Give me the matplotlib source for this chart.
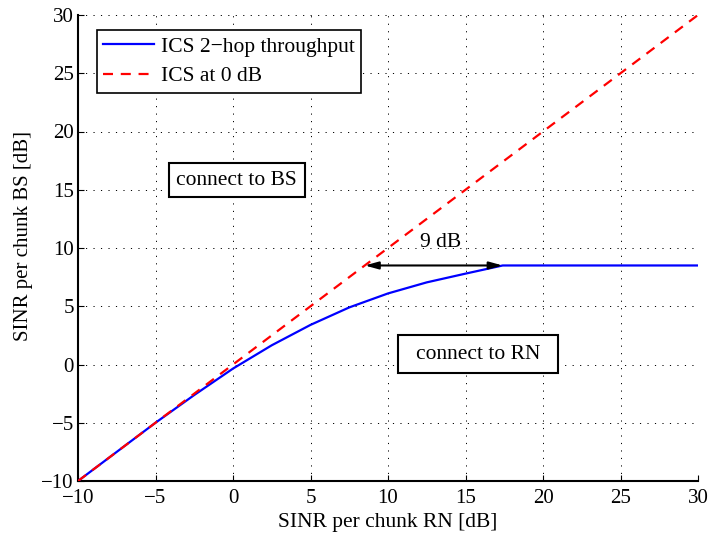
import matplotlib
matplotlib.use("Agg")
import matplotlib.pyplot as plt
from matplotlib.patches import Rectangle

plt.rcParams['font.family'] = ['Liberation Serif', 'DejaVu Serif']
plt.rcParams['axes.unicode_minus'] = True

# SINR per chunk at the relay node [dB]
sinr_rn = [-10, -7.5, -5, -2.5, 0, 2.5, 5, 7.5, 10, 12.5, 15, 17.4, 30]
# equivalent BS SINR giving the same 2-hop throughput [dB]
ics_2hop = [-10, -7.5, -5.0, -2.62, -0.35, 1.65, 3.4, 4.9, 6.1, 7.05, 7.8, 8.5, 8.5]
# reference line: ICS at 0 dB
ics_0db_x = [-10, 30]
ics_0db_y = [-10, 30]

arrow_y = 8.5
arrow_x = [8.5, 17.4]
gap_label = "9 dB"

xticks = [-10, -5, 0, 5, 10, 15, 20, 25, 30]
yticks = [-10, -5, 0, 5, 10, 15, 20, 25, 30]

fig = plt.figure(figsize=(7.13, 5.34), dpi=100)
ax = fig.add_axes([78/713, 1-481/534, 620/713, 466/534])

ax.plot(sinr_rn, ics_2hop, color='#0000ff', lw=1.6, label='ICS 2\u2212hop throughput', zorder=3)
ax.plot(ics_0db_x, ics_0db_y, color='#ff0000', lw=1.6, ls=(0, (4.5, 3.5)), label='ICS at 0 dB', zorder=4)

ax.set_xlim(-10, 30)
ax.set_ylim(-10, 30)
ax.set_xticks(xticks)
ax.set_yticks(yticks)
ax.tick_params(direction='in', length=4, width=0.8, labelsize=15)
ax.tick_params(axis='x', pad=6)
ax.tick_params(axis='y', pad=3)
for s in ['top', 'right']:
    ax.spines[s].set_visible(False)
for s in ['left', 'bottom']:
    ax.spines[s].set_linewidth(1.5)

ax.grid(True, color='k', lw=0.7, ls=(0, (1.2, 6.5)))
ax.set_axisbelow(True)

ax.set_xlabel('SINR per chunk RN [dB]', fontsize=15.5, labelpad=3)
ax.set_ylabel('SINR per chunk BS [dB]', fontsize=15)
ax.yaxis.set_label_coords(-0.073, 0.526)

leg = ax.legend(loc='upper left', bbox_to_anchor=(19/620, 1-(30-15)/466), borderaxespad=0,
                fontsize=15.5, fancybox=False, framealpha=1, handlelength=2.35,
                borderpad=0.3, labelspacing=0.45, handletextpad=0.3)
leg.get_frame().set_edgecolor('k')
leg.get_frame().set_linewidth(1.2)

ax.annotate('', xy=(arrow_x[0], arrow_y), xytext=(arrow_x[1], arrow_y),
            arrowprops=dict(arrowstyle='<|-|>,head_length=0.8,head_width=0.22',
                            color='k', lw=1.5, shrinkA=0, shrinkB=0), zorder=5)
ax.text(13.4, 10.5, gap_label, fontsize=15.5, ha='center', va='center')

box = dict(boxstyle='square,pad=0.35', fc='white', ec='k', lw=1.5)
ax.text(0.25, 15.8, 'connect to BS', fontsize=15.5, ha='center', va='center', bbox=box)

# wider frame around the relay-node label
ax.add_patch(Rectangle((10.65, -0.77), 10.3, 3.26, fc='white', ec='k', lw=1.5, zorder=5))
ax.text(15.8, 0.85, 'connect to RN', fontsize=15.5, ha='center', va='center', zorder=6)

fig.savefig('out.png', dpi=100)
